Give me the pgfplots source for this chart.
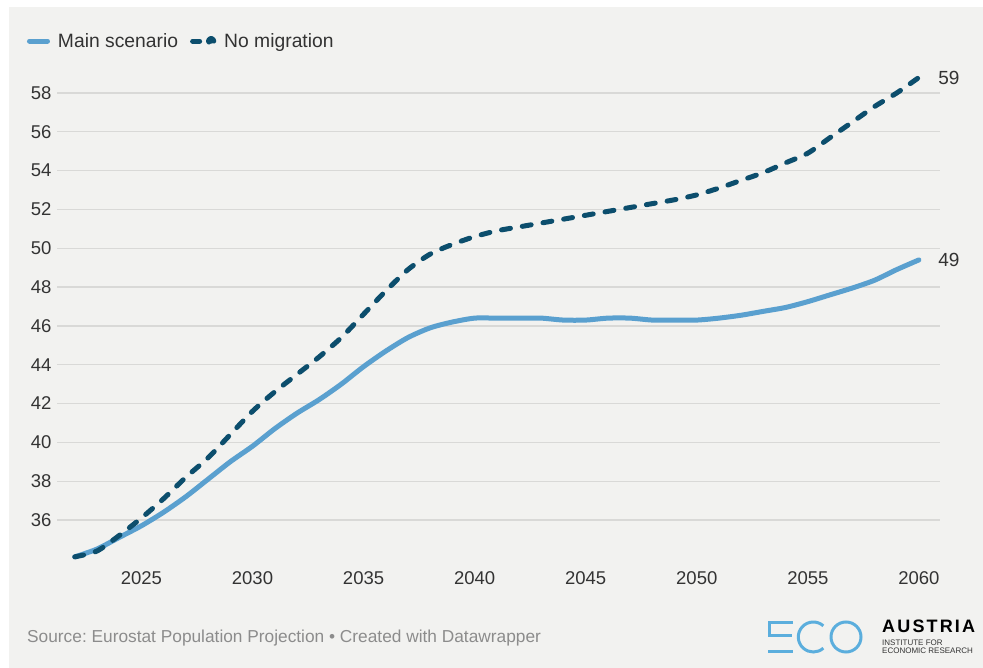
\documentclass[border=0pt]{standalone}
\usepackage{pgfplots}
\pgfplotsset{compat=1.18}
\usepackage{fontspec}
\setmainfont{Liberation Sans}
\frenchspacing

\definecolor{bg}{HTML}{F2F2F0}
\definecolor{mainblue}{HTML}{5AA0CF}
\definecolor{navy}{HTML}{0C4E6D}
\definecolor{gridc}{HTML}{D9D9D7}
\definecolor{txt}{HTML}{333333}
\definecolor{srcgray}{HTML}{8C8C8C}
\definecolor{logoblue}{HTML}{5BAEDD}

\pgfplotstableread{
year main nomig
2022 34.1 34.1
2023 34.5 34.4
2024 35.1 35.2
2025 35.7 36.1
2026 36.4 37.1
2027 37.2 38.2
2028 38.1 39.2
2029 39.0 40.4
2030 39.8 41.6
2031 40.7 42.6
2032 41.5 43.5
2033 42.2 44.4
2034 43.0 45.4
2035 43.9 46.6
2036 44.7 47.8
2037 45.4 48.9
2038 45.9 49.7
2039 46.2 50.2
2040 46.4 50.6
2041 46.4 50.9
2042 46.4 51.1
2043 46.4 51.3
2044 46.3 51.5
2045 46.3 51.7
2046 46.4 51.9
2047 46.4 52.1
2048 46.3 52.3
2049 46.3 52.5
2050 46.3 52.75
2051 46.4 53.1
2052 46.55 53.5
2053 46.75 53.9
2054 46.95 54.4
2055 47.25 54.9
2056 47.6 55.7
2057 47.95 56.5
2058 48.35 57.3
2059 48.9 58.0
2060 49.4 58.8
}\popdata

\begin{document}
\begin{tikzpicture}[x=1pt,y=1pt]
% canvas
\fill[white] (0,0) rectangle (983,668);
\fill[bg] (9,0) rectangle (983,661);
\useasboundingbox (0,0) rectangle (983,668);

\begin{axis}[
  at={(57pt,109.2pt)}, anchor=south west,
  scale only axis, width=883pt, height=485.2pt,
  xmin=2021.2, xmax=2060.95, ymin=34, ymax=59,
  clip=false,
  axis line style={draw=none},
  tick style={draw=none},
  xtick={2025,2030,...,2060},
  ytick={36,38,...,58},
  ymajorgrids, grid style={gridc, line width=1.3pt},
  /pgf/number format/assume math mode=true,
  xticklabel={\pgfmathprintnumber[1000 sep={}]{\tick}},
  yticklabel={\pgfmathprintnumber{\tick}},
  ticklabel style={font=\fontsize{18.5}{21}\selectfont, text=txt},
  xticklabel style={anchor=center, yshift=-19pt},
  yticklabel style={anchor=east, xshift=-2pt},
  legend columns=2,
  legend style={at={(-0.034,1.067)}, anchor=west, draw=none, fill=none,
    inner sep=0pt, outer sep=0pt,
    font=\fontsize{19.3}{22}\selectfont, text=txt,
    /tikz/every odd column/.append style={column sep=6pt},
    /tikz/every even column/.append style={column sep=10pt}},
]
\addplot[mainblue, line width=5pt, line cap=round, line join=round, smooth, tension=0.45,
  legend image code/.code={\draw[mainblue, line width=5pt, line cap=round] (2.5pt,0)--(20.5pt,0);}]
  table[x=year, y=main] {\popdata};
\addlegendentry{Main scenario}
\addplot[navy, line width=5pt, line cap=round, line join=round, smooth, tension=0.45,
  dash pattern=on 9pt off 12pt,
  legend image code/.code={\draw[navy, line width=5pt, line cap=round] (2.5pt,0)--(9.5pt,0);
    \fill[navy] (21pt,0) circle (2.6pt);}]
  table[x=year, y=nomig] {\popdata};
\addlegendentry{No migration}

\node[anchor=west, font=\fontsize{19}{21}\selectfont, text=txt, xshift=16pt]
  at (axis cs:2060,58.8) {59};
\node[anchor=west, font=\fontsize{19}{21}\selectfont, text=txt, xshift=16pt]
  at (axis cs:2060,49.4) {49};
\end{axis}

% footer
\node[anchor=west, inner sep=0pt, text=srcgray, font=\fontsize{17.3}{20}\selectfont]
  at (27,30) {Source: Eurostat Population Projection • Created with Datawrapper};

% ECO Austria logo
\begin{scope}[logoblue, line width=3pt]
  \draw (768.3,45.3) -- (793.3,45.3);
  \draw (769.8,45.3) -- (769.8,32);
  \draw (768.3,32) -- (791.7,32);
  \draw (768.3,16.3) -- (793.3,16.3);
  \draw (813.3,31) ++(48:15) arc[start angle=48, end angle=312, radius=15];
  \draw (846,31) circle (15);
\end{scope}
\node[anchor=base west, inner sep=0pt, font=\fontsize{18}{20}\bfseries\addfontfeature{LetterSpace=12}\selectfont, text=black]
  at (882,35) {AUSTRIA};
\node[anchor=base west, inner sep=0pt, font=\fontsize{8}{9}\selectfont, text=txt]
  at (882,22) {INSTITUTE FOR};
\node[anchor=base west, inner sep=0pt, font=\fontsize{8}{9}\selectfont, text=txt]
  at (882,14.7) {ECONOMIC RESEARCH};
\end{tikzpicture}
\end{document}
